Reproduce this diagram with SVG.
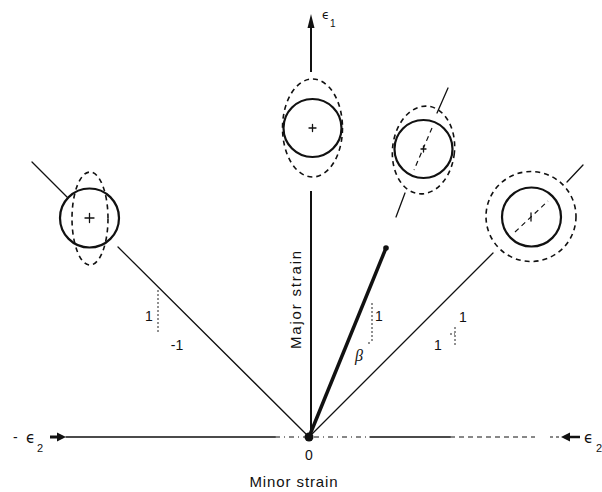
<svg xmlns="http://www.w3.org/2000/svg" width="602" height="492" viewBox="0 0 602 492">
<style>
.ln{stroke:#111;stroke-width:1.3;fill:none;stroke-linecap:round}
.ax{stroke:#111;stroke-width:2;fill:none}
.sol{stroke:#111;stroke-width:2.2;fill:none}
.dsh{stroke:#111;stroke-width:1.6;fill:none;stroke-dasharray:5 4}
.dd{stroke:#111;stroke-width:1.2;fill:none;stroke-dasharray:5 4 1 4}
.dot{stroke:#222;stroke-width:1;fill:none;stroke-dasharray:2 2}
.t{font-family:"Liberation Sans","DejaVu Sans",sans-serif;fill:#111}
.e{font-family:"DejaVu Sans","Liberation Sans",sans-serif;fill:#111}
</style>
<rect width="602" height="492" fill="#fff"/>
<g id="connectors">
  <line class="ln" x1="66" y1="437" x2="275" y2="437"/>
  <line class="dd" x1="275" y1="437" x2="305" y2="437"/>
  <line class="dd" x1="314" y1="437" x2="370" y2="437"/>
  <line class="ln" x1="370" y1="437" x2="450" y2="437"/>
  <line class="dsh" x1="450" y1="437" x2="535" y2="437" style="stroke-width:1"/>
  <line class="dsh" x1="550" y1="437" x2="560" y2="437" style="stroke-width:1;stroke-dasharray:3 3"/>
  <line class="ax" x1="50" y1="437" x2="59" y2="437" style="stroke-width:3"/>
  <polygon points="66,437 57,432.5 57,441.5" fill="#111"/>
  <polygon points="561,437 570,432.5 570,441.5" fill="#111"/>
  <line class="ax" x1="569" y1="437" x2="580" y2="437" style="stroke-width:2.5"/>
  <line class="ax" x1="311" y1="26" x2="311" y2="72"/>
  <polygon points="311,14 307.5,28 314.5,28" fill="#111"/>
  <line class="ax" x1="311" y1="191" x2="311" y2="437"/>
  <line class="ln" x1="32" y1="162" x2="67" y2="197"/>
  <line class="ln" x1="118" y1="247" x2="309" y2="437"/>
  <line class="ln" x1="309" y1="437" x2="493" y2="253"/>
  <line class="ln" x1="567" y1="182" x2="583" y2="165"/>
  <line class="ln" x1="448" y1="88" x2="437" y2="113"/>
  <line class="ln" x1="405" y1="193" x2="396" y2="217"/>
  <line class="sol" x1="386" y1="248" x2="309" y2="437" style="stroke-width:3.5"/>
  <circle cx="386" cy="248" r="2.8" fill="#111"/>
  <circle cx="309" cy="437" r="4.5" fill="#111"/>
  <line class="dot" x1="158" y1="290" x2="158" y2="333"/>
  <line class="dot" x1="372" y1="303" x2="372" y2="343"/>
  <line class="dot" x1="368" y1="343" x2="372" y2="343"/>
  <line class="dot" x1="455" y1="327" x2="455" y2="345"/>
  <line class="dot" x1="450" y1="334" x2="455" y2="334"/>
</g>
<g id="circle-left">
  <circle class="sol" cx="89.5" cy="218" r="29.5"/>
  <ellipse class="dsh" cx="90" cy="218.5" rx="18" ry="46.5"/>
  <path class="ln" d="M85 218h9M89.5 213.5v9"/>
</g>
<g id="circle-top">
  <circle class="sol" cx="312.5" cy="128" r="29"/>
  <ellipse class="dsh" cx="312.5" cy="128" rx="30" ry="49"/>
  <path class="ln" d="M309 128h7M312.5 124.5v7"/>
</g>
<g id="circle-mid">
  <circle class="sol" cx="423.5" cy="149" r="29"/>
  <ellipse class="dsh" cx="423.5" cy="150" rx="31" ry="44" transform="rotate(6 423.5 150)"/>
  <line class="dsh" x1="432" y1="128" x2="414" y2="170" style="stroke-width:1.2"/>
  <path class="ln" d="M421 149h5M423.5 146v6"/>
</g>
<g id="circle-right">
  <circle class="sol" cx="531.5" cy="217" r="29.5"/>
  <circle class="dsh" cx="531" cy="216.5" r="45"/>
  <line class="dsh" x1="515" y1="232" x2="548" y2="201" style="stroke-width:1.2"/>
  <path class="ln" d="M531 213v8"/>
</g>
<g id="labels">
  <text class="e" x="322" y="19" font-size="12">ϵ</text>
  <text class="t" x="330" y="27" font-size="10">1</text>
  <text class="t" x="13" y="442" font-size="14">-</text>
  <text class="e" x="26" y="443" font-size="15">ϵ</text>
  <text class="t" x="37" y="452" font-size="11">2</text>
  <text class="e" x="584" y="443" font-size="15">ϵ</text>
  <text class="t" x="596" y="452" font-size="11">2</text>
  <text class="t" x="309" y="460" font-size="14" text-anchor="middle">0</text>
  <text class="t" x="294" y="487" font-size="15" text-anchor="middle" letter-spacing="0.9">Minor strain</text>
  <text class="t" transform="translate(301 299) rotate(-90)" font-size="15" text-anchor="middle" letter-spacing="1.8">Major strain</text>
  <text class="t" x="149" y="321" font-size="14" text-anchor="middle">1</text>
  <text class="t" x="177" y="350" font-size="14" text-anchor="middle">-1</text>
  <text class="t" x="379" y="321" font-size="14" text-anchor="middle">1</text>
  <text x="359" y="361" font-size="16" font-style="italic" text-anchor="middle" font-family="'Liberation Serif','DejaVu Serif',serif" fill="#111">β</text>
  <text class="t" x="463" y="322" font-size="14" text-anchor="middle">1</text>
  <text class="t" x="438" y="350" font-size="14" text-anchor="middle">1</text>
</g>
</svg>
